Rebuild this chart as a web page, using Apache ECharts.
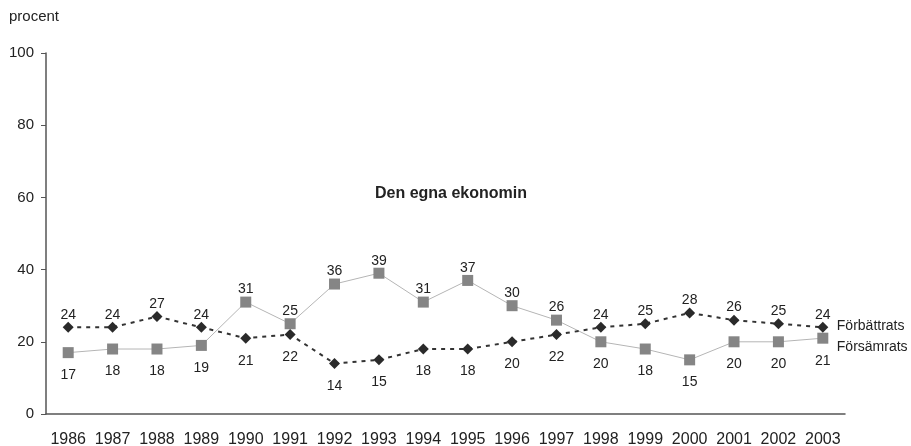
<!DOCTYPE html>
<html>
<head>
<meta charset="utf-8">
<script src="https://cdn.jsdelivr.net/npm/echarts@6/dist/echarts.min.js"></script>
<style>
  html, body { margin: 0; padding: 0; background: #fff; }
  #chart { width: 911px; height: 446px; }
</style>
</head>
<body>
<div id="chart"></div>
<script>
const years = ["1986", "1987", "1988", "1989", "1990", "1991", "1992", "1993", "1994", "1995", "1996", "1997", "1998", "1999", "2000", "2001", "2002", "2003"];
const forbattrats = [24, 24, 27, 24, 21, 22, 14, 15, 18, 18, 20, 22, 24, 25, 28, 26, 25, 24];
const forsamrats = [17, 18, 18, 19, 31, 25, 36, 39, 31, 37, 30, 26, 20, 18, 15, 20, 20, 21];
const yTicks = [0, 20, 40, 60, 80, 100];

const FONT = "Liberation Sans, Arial, sans-serif";

// label above if the point is over the other series, else below
function pointLabels(vals, other) {
  return vals.map((v, i) => {
    const up = v > other[i];
    return {
      value: v,
      label: up ? { position: "top", distance: 0 } : { position: "bottom", distance: 10 },
    };
  });
}

const chart = echarts.init(document.getElementById("chart"), null, { renderer: "canvas" });

const option = {
  animation: false,
  textStyle: { fontFamily: FONT },
  title: {
    text: "Den egna ekonomin",
    left: 446,
    top: 181,
    textAlign: "center",
    textStyle: { fontFamily: FONT, fontSize: 16, fontWeight: "bold", color: "#222" },
  },
  graphic: [
    {
      type: "text",
      left: 9,
      top: 9,
      style: { text: "procent", fill: "#222", fontSize: 15, fontFamily: FONT },
    },
  ],
  grid: { left: 46, right: 66, top: 53, bottom: 32, containLabel: false, outerBoundsMode: "none" },
  xAxis: {
    type: "category",
    data: years,
    boundaryGap: true,
    axisLine: { lineStyle: { color: "#555", width: 1.5 } },
    axisTick: { show: false },
    axisLabel: { interval: 0, hideOverlap: false, color: "#222", fontSize: 16, margin: 18, fontFamily: FONT },
  },
  yAxis: {
    type: "value",
    min: yTicks[0],
    max: yTicks[yTicks.length - 1],
    interval: 20,
    axisLine: { show: true, lineStyle: { color: "#555", width: 1.5 } },
    axisTick: { show: true, length: 5, lineStyle: { color: "#555" } },
    axisLabel: { color: "#222", fontSize: 15, margin: 12, fontFamily: FONT },
    splitLine: { show: false },
  },
  series: [
    {
      name: "Försämrats",
      type: "line",
      data: pointLabels(forsamrats, forbattrats),
      symbol: "rect",
      symbolSize: 11,
      itemStyle: { color: "#858585" },
      lineStyle: { color: "#b5b5b5", width: 1 },
      label: { show: true, color: "#222", fontSize: 14, fontFamily: FONT },
      endLabel: {
        show: true,
        formatter: "Försämrats",
        color: "#222",
        fontSize: 14,
        distance: 14,
        offset: [0, 9],
        fontFamily: FONT,
      },
      z: 2,
    },
    {
      name: "Förbättrats",
      type: "line",
      data: pointLabels(forbattrats, forsamrats),
      symbol: "diamond",
      symbolSize: 11,
      itemStyle: { color: "#2a2a2a" },
      lineStyle: { color: "#333", width: 2, type: [4, 5] },
      label: { show: true, color: "#222", fontSize: 14, fontFamily: FONT },
      endLabel: {
        show: true,
        formatter: "Förbättrats",
        color: "#222",
        fontSize: 14,
        distance: 14,
        offset: [0, -1],
        fontFamily: FONT,
      },
      z: 3,
    },
  ],
};

chart.setOption(option);
</script>
</body>
</html>
